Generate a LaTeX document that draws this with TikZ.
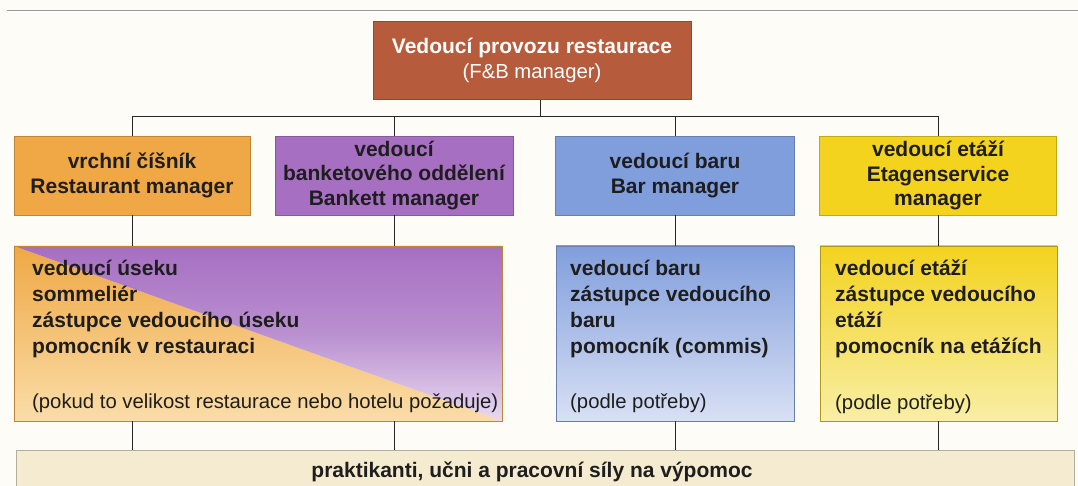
\documentclass[tikz,border=0pt]{standalone}
\usepackage{fontspec}
\setmainfont{Liberation Sans}
\definecolor{bgC}{HTML}{FDFCF7}
\definecolor{topC}{HTML}{B65B3C}
\definecolor{orangeC}{HTML}{EFA845}
\definecolor{peachC}{HTML}{FADDA8}
\definecolor{purpleC}{HTML}{A66FC2}
\definecolor{lavC}{HTML}{E8DAF0}
\definecolor{blueC}{HTML}{819EDC}
\definecolor{lblueC}{HTML}{D8E0F4}
\definecolor{yellowC}{HTML}{F3D31E}
\definecolor{lyellowC}{HTML}{F8EEA6}
\definecolor{creamC}{HTML}{F4EBD0}
\definecolor{txtC}{HTML}{1E1E1E}
\begin{document}
\begin{tikzpicture}[x=1pt,y=-1pt,
  box/.style={draw=#1!80!black, fill=#1, line width=0.5pt, inner sep=0pt},
  frame/.style={draw=#1!80!black, line width=0.5pt, inner sep=0pt},
  head/.style={font=\bfseries\fontsize{21}{24.5}\selectfont, text=txtC, align=center},
  body/.style={font=\bfseries\fontsize{21}{25.8}\selectfont, text=txtC, align=left, anchor=north west, inner sep=0pt},
  conn/.style={line width=0.9pt, draw=black!85}]
\useasboundingbox (0,0) rectangle (1078,486);
\clip (0,0) rectangle (1078,486);
\fill[bgC] (0,0) rectangle (1078,486);
\draw[black!40, line width=1pt] (7,11) -- (1078,11);

% top
\node[box=topC, minimum width=318, minimum height=78, text=white, align=center,
      font=\fontsize{21}{25}\selectfont] (top) at (532,60.5)
      {\textbf{Vedoucí provozu restaurace}\\{\fontsize{20.3}{25}\selectfont(F\&B manager)}};

% row 1
\node[box=orangeC, minimum width=236, minimum height=79, head] (r1) at (132,175.5)
  {vrchní číšník\\Restaurant manager};
\node[box=purpleC, minimum width=238, minimum height=79, head] (r2) at (394,175.5)
  {vedoucí\\banketového oddělení\\Bankett manager};
\node[box=blueC, minimum width=239, minimum height=79, head] (r3) at (675,175.5)
  {vedoucí baru\\Bar manager};
\node[box=yellowC, minimum width=237, minimum height=79, head] (r4) at (938,175.5)
  {vedoucí etáží\\Etagenservice\\manager};

% row 2 shading
\coordinate (a1) at (14,246);
\coordinate (a2) at (502,421);
\begin{scope}
  \clip (a1) -- (a2) -- (a1 |- a2) -- cycle;
  \shade[top color=orangeC, bottom color=peachC] (a1) rectangle (a2);
\end{scope}
\begin{scope}
  \clip (a1) -- (a2 |- a1) -- (a2) -- cycle;
  \shade[top color=purpleC, bottom color=lavC, middle color=purpleC!70!lavC] (a1) rectangle (a2);
\end{scope}
\node[frame=orangeC, minimum width=488, minimum height=175] (rA) at (258,333.5) {};
\shade[top color=blueC, bottom color=lblueC] (556,246) rectangle (794,421);
\node[frame=blueC, minimum width=238, minimum height=175] (rB) at (675,333.5) {};
\shade[top color=yellowC, bottom color=lyellowC] (820,246) rectangle (1057,421);
\node[frame=yellowC!90!black, minimum width=237, minimum height=175] (rC) at (938.5,333.5) {};

\node[body] (tA) at (32,260)
  {vedoucí úseku\\sommeliér\\zástupce vedoucího úseku\\pomocník v restauraci\\[30pt]
   \mdseries\fontsize{20.3}{25.5}\selectfont(pokud to velikost restaurace nebo hotelu požaduje)};
\node[body] (tB) at (570,260)
  {vedoucí baru\\zástupce vedoucího\\baru\\pomocník (commis)\\[30pt]
   \mdseries\fontsize{20.3}{25.5}\selectfont(podle potřeby)};
\node[body] (tC) at (835,260)
  {vedoucí etáží\\zástupce vedoucího\\etáží\\pomocník na etážích\\[30pt]
   \mdseries\fontsize{20.3}{25.5}\selectfont(podle potřeby)};

% bottom
\node[draw=creamC!70!black!90, fill=creamC, line width=0.5pt, minimum width=1058, minimum height=70] (bot) at (545,485) {};
\node[font=\bfseries\fontsize{21}{24}\selectfont, text=txtC, anchor=base] (botT) at (532,477)
  {praktikanti, učni a pracovní síly na výpomoc};

% connectors
\coordinate (bus) at (540,116);
\draw[conn] (top.south -| bus) -- (bus);
\draw[conn] (r1.north) -- (r1.north |- bus) -- (r4.north |- bus) -- (r4.north);
\draw[conn] (r2.north) -- (r2.north |- bus);
\draw[conn] (r3.north) -- (r3.north |- bus);
\draw[conn] (r1.south) -- (r1.south |- rA.north);
\draw[conn] (r2.south) -- (r2.south |- rA.north);
\draw[conn] (r3.south) -- (r3.south |- rB.north);
\draw[conn] (r4.south) -- (r4.south |- rC.north);
\draw[conn] (r1.south |- rA.south) -- (r1.south |- bot.north);
\draw[conn] (r2.south |- rA.south) -- (r2.south |- bot.north);
\draw[conn] (rB.south) -- (rB.south |- bot.north);
\draw[conn] (rC.south) -- (rC.south |- bot.north);
\end{tikzpicture}
\end{document}
